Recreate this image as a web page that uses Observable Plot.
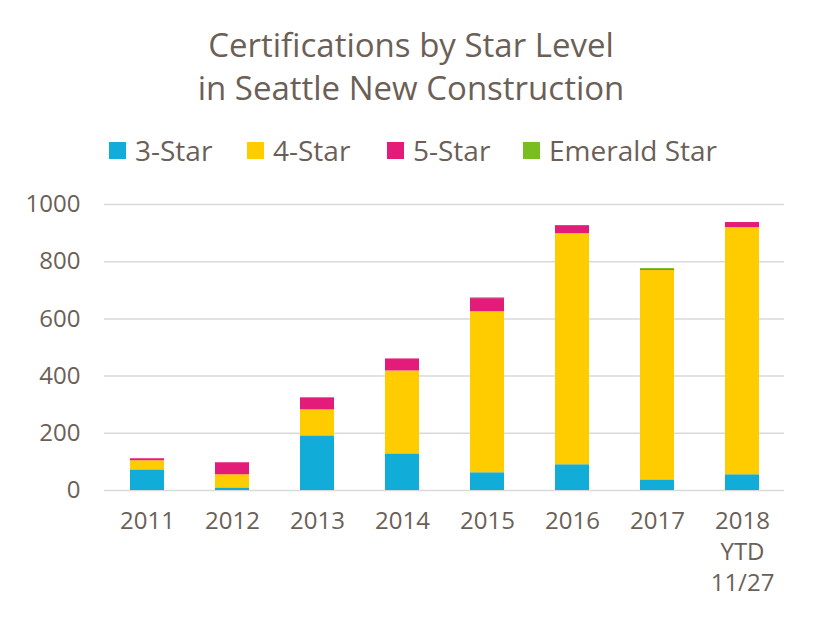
<!DOCTYPE html>
<html>
<head>
<meta charset="utf-8">
<script src="https://cdn.jsdelivr.net/npm/d3@7"></script>
<script src="https://cdn.jsdelivr.net/npm/@observablehq/plot@0.6"></script>
<style>
  body { margin: 0; background: #fff; font-family: "Open Sans", sans-serif; color: #6b5f57; }
  #wrap { width: 814px; height: 623px; position: relative; overflow: hidden; }
  #title { text-align: center; font-size: 33px; line-height: 43px; padding-top: 23px; padding-left: 8px; }
  #legend { position: absolute; top: 131px; left: 0; width: 814px; height: 38px; }
  .item { position: absolute; top: 0; display: flex; align-items: center; height: 38px; font-size: 28px; }
  .sw { width: 17px; height: 17px; margin-right: 9px; }
  #chart { position: absolute; top: 175px; left: 0; }
</style>
</head>
<body>
<div id="wrap">
  <div id="title">Certifications by Star Level<br>in Seattle New Construction</div>
  <div id="legend"></div>
  <div id="chart"></div>
</div>
<script>
const years = ["2011", "2012", "2013", "2014", "2015", "2016", "2017", "2018\nYTD\n11/27"];
const series = ["3-Star", "4-Star", "5-Star", "Emerald Star"];
const colors = ["#12acd8", "#ffcc00", "#e31c79", "#78be20"];
const threeStar = [72, 9, 191, 128, 62, 90, 37, 55];
const fourStar = [32, 46, 91, 290, 563, 808, 732, 864];
const fiveStar = [7, 42, 42, 42, 46, 28, 3, 18];
const emeraldStar = [0, 0, 0, 0, 3, 0, 4, 0];
const yTicks = [0, 200, 400, 600, 800, 1000];
const legendX = [109, 247, 387, 523];

const valuesBySeries = [threeStar, fourStar, fiveStar, emeraldStar];
const data = [];
series.forEach((s, i) => years.forEach((y, j) => data.push({year: y, series: s, value: valuesBySeries[i][j]})));

const legend = document.getElementById("legend");
series.forEach((s, i) => {
  const d = document.createElement("div");
  d.className = "item";
  d.style.left = legendX[i] + "px";
  d.innerHTML = `<span class="sw" style="background:${colors[i]}"></span><span>${s}</span>`;
  legend.appendChild(d);
});

const chart = Plot.plot({
  width: 814,
  height: 448,
  marginTop: 29,
  marginBottom: 133,
  marginLeft: 104,
  marginRight: 30,
  style: { fontFamily: "Open Sans, sans-serif", fontSize: "24px", color: "#6b5f57", background: "transparent" },
  x: { domain: years, paddingInner: 0.6, paddingOuter: 0.3, label: null },
  y: { domain: [0, 1000], label: null },
  color: { domain: series, range: colors },
  marks: [
    Plot.gridY(yTicks, { stroke: "#d9d9d9", strokeOpacity: 1, strokeWidth: 1.5 }),
    Plot.barY(data, Plot.stackY({ x: "year", y: "value", fill: "series", order: series })),
    Plot.axisY(yTicks, { tickSize: 0, tickPadding: 24, label: null, fontSize: 24, tickFormat: d => String(d) }),
    Plot.axisX({ tickSize: 0, tickPadding: 16, label: null, fontSize: 24, lineHeight: 1.3 })
  ]
});
document.getElementById("chart").appendChild(chart);
</script>
</body>
</html>
